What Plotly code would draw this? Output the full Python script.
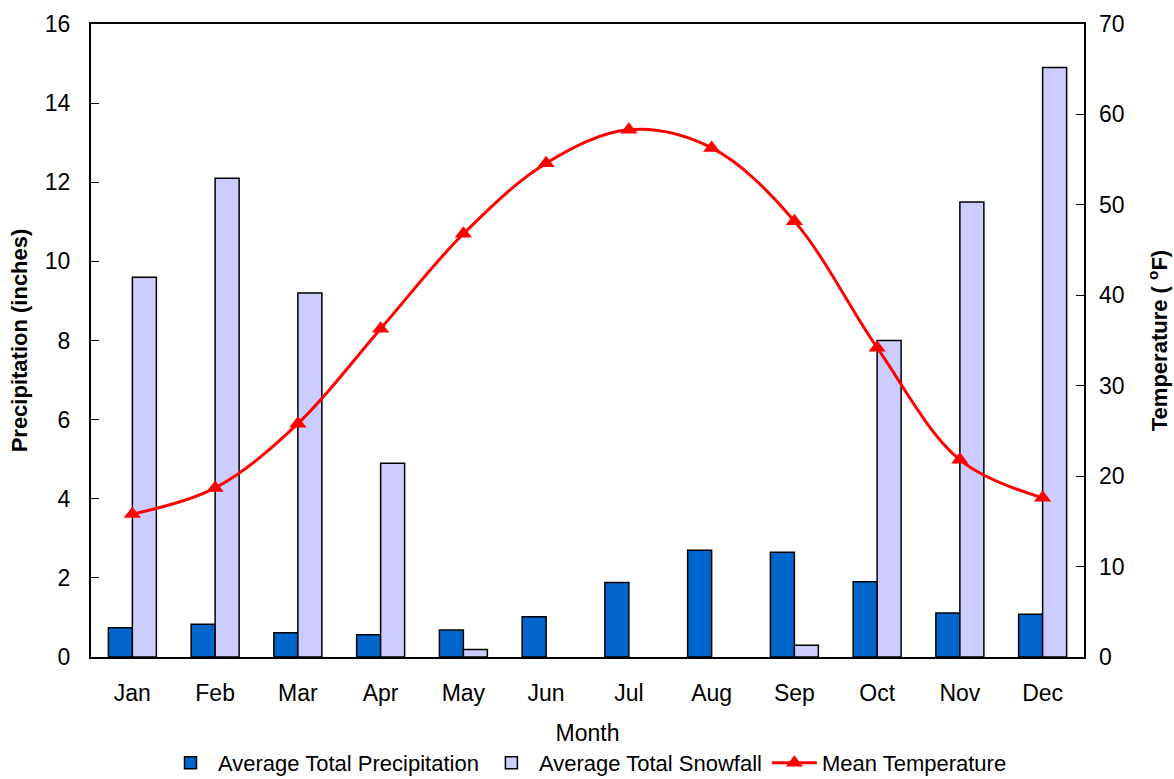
import plotly.graph_objects as go

months = ["Jan", "Feb", "Mar", "Apr", "May", "Jun", "Jul", "Aug", "Sep", "Oct", "Nov", "Dec"]
precipitation = [0.74, 0.83, 0.61, 0.56, 0.68, 1.02, 1.88, 2.70, 2.65, 1.90, 1.11, 1.08]
snowfall = [9.6, 12.1, 9.2, 4.9, 0.19, 0, 0, 0, 0.30, 8.0, 11.5, 14.9]
temperature = [15.8, 18.7, 25.8, 36.3, 46.8, 54.6, 58.3, 56.3, 48.2, 34.2, 21.8, 17.6]

left_ticks = [0, 2, 4, 6, 8, 10, 12, 14, 16]
right_ticks = [0, 10, 20, 30, 40, 50, 60, 70]

font_family = "Liberation Sans, Arial, sans-serif"

# zero-height bars are not drawn (avoid outline slivers)
snow_plot = [v if v > 0 else None for v in snowfall]

fig = go.Figure()
fig.add_trace(go.Bar(
    x=months, y=precipitation, name="Average Total Precipitation",
    marker=dict(color="#0066CC", line=dict(color="#000000", width=1.5)),
))
fig.add_trace(go.Bar(
    x=months, y=snow_plot, name="Average Total Snowfall",
    marker=dict(color="#CCCCFF", line=dict(color="#000000", width=1.5)),
))
fig.add_trace(go.Scatter(
    x=months, y=temperature, name="Mean Temperature", yaxis="y2",
    mode="lines+markers",
    line=dict(color="#FF0000", width=3, shape="spline", smoothing=1.0),
    marker=dict(symbol="triangle-up", size=15, color="#FF0000"),
))

fig.update_layout(
    width=1174, height=779,
    margin=dict(l=91, r=90, t=24, b=122, autoexpand=False),
    paper_bgcolor="white", plot_bgcolor="white",
    font=dict(family=font_family, size=23, color="black"),
    barmode="group", bargap=0.42, bargroupgap=0,
    showlegend=True,
    legend=dict(orientation="h", x=0.5, xanchor="center",
                y=-0.1675, yanchor="middle",
                font=dict(size=22), traceorder="normal", itemwidth=45,
                tracegroupgap=0),
    xaxis=dict(
        title=dict(text="Month", font=dict(size=23), standoff=20),
        range=[-0.5, len(months) - 0.5],
        showline=True, linecolor="black", linewidth=2, mirror=True,
        ticks="", showgrid=False, tickfont=dict(size=23),
        ticklabelstandoff=14, automargin=False,
    ),
    yaxis=dict(
        title=dict(text="<b>Precipitation (inches)</b>", font=dict(size=22), standoff=11),
        range=[0, 16], tickvals=left_ticks,
        showline=True, linecolor="black", linewidth=2, mirror=True,
        ticks="inside", ticklen=8, tickcolor="black", showgrid=False, zeroline=False,
        tickfont=dict(size=23), ticklabelstandoff=14, automargin=False,
    ),
    yaxis2=dict(
        title=dict(text="<b>Temperature ( <sup>o</sup>F)</b>", font=dict(size=22), standoff=28),
        overlaying="y", side="right",
        range=[0, 70], tickvals=right_ticks,
        ticks="inside", ticklen=8, tickcolor="black", showgrid=False, zeroline=False,
        showline=False, tickfont=dict(size=23), ticklabelstandoff=14, automargin=False,
    ),
)

fig.write_html("out.html",
               config={"displayModeBar": False},
               post_script="document.body.style.margin='0';document.body.style.overflow='hidden';")
